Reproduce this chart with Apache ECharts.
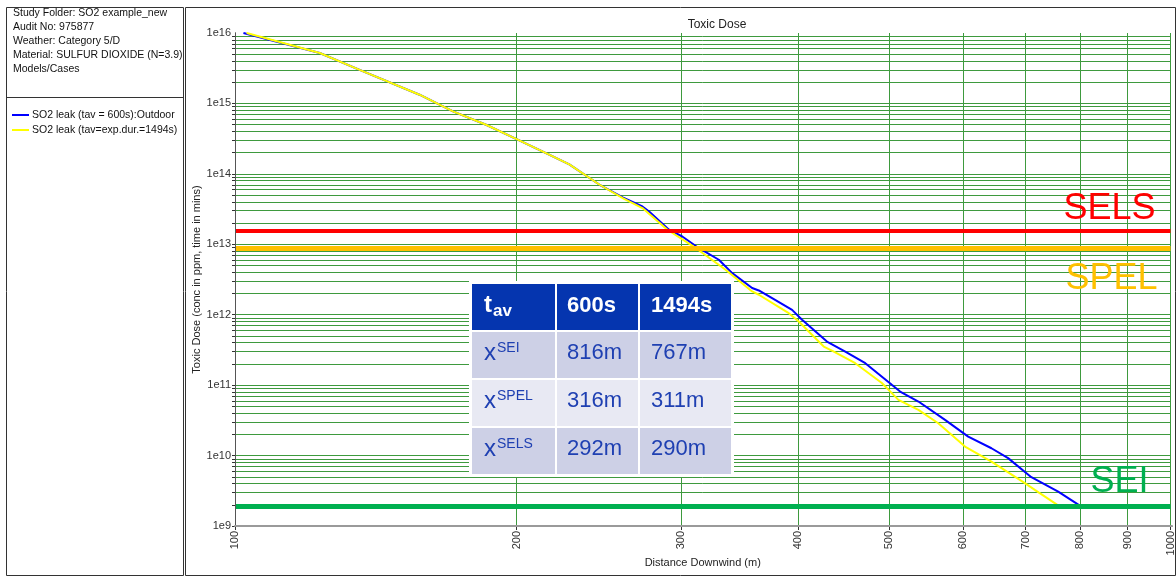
<!DOCTYPE html>
<html><head><meta charset="utf-8">
<script src="https://cdn.jsdelivr.net/npm/echarts@6/dist/echarts.min.js"></script>
<style>html,body{margin:0;padding:0;background:#fff}#c{width:1176px;height:579px}</style>
</head><body><div id="c"></div>
<script>
// ---------- data ----------
const seriesNames = ['SO2 leak (tav = 600s):Outdoor', 'SO2 leak (tav=exp.dur.=1494s)'];
const distance600 = [102.1, 123.2, 135.9, 157.5, 171.0, 185.5, 200, 215.0, 227.7, 245.1, 260.0, 272.6, 277.1, 291.0, 300.7, 313.3, 329.0, 340.0, 357.1, 363.0, 375.1, 394.0, 403.8, 429.3, 449.1, 471.8, 503.6, 514.0, 537.7, 574.1, 607.8, 643.6, 670.5, 710.0, 758.5, 800];
const dose600 = [1.0e16, 5.2e15, 3.0e15, 1.33e15, 7.7e14, 4.98e14, 3.12e14, 1.97e14, 1.36e14, 7.06e13, 4.6e13, 3.44e13, 2.92e13, 1.61e13, 1.29e13, 8.8e12, 6.03e12, 3.9e12, 2.39e12, 2.21e12, 1.72e12, 1.17e12, 8.47e11, 4.16e11, 3.0e11, 2.05e11, 1.01e11, 8.1e10, 5.85e10, 3.21e10, 1.86e10, 1.27e10, 9.2e9, 4.93e9, 3.08e9, 1.95e9];
const distance1494 = [102.9, 123.2, 135.9, 157.5, 171.0, 185.5, 200, 215.0, 227.7, 245.1, 260.0, 272.6, 289.9, 311.0, 334.5, 357.1, 363.0, 390.8, 400.5, 425.9, 434.6, 460.3, 491.4, 511.9, 537.7, 564.6, 603.0, 643.6, 698.8, 716.1, 759];
const dose1494 = [1.0e16, 5.2e15, 3.0e15, 1.33e15, 7.7e14, 4.98e14, 3.12e14, 1.97e14, 1.36e14, 7.06e13, 4.5e13, 3.27e13, 1.61e13, 8.8e12, 4.34e12, 2.14e12, 1.92e12, 1.05e12, 8.0e11, 3.53e11, 3.1e11, 2.05e11, 1.07e11, 6.18e10, 4.46e10, 2.88e10, 1.34e10, 8.2e9, 4.06e9, 3.26e9, 1.95e9];

const thresholdNames = ['SELS', 'SPEL', 'SEI'];
const thresholdValues = [1.57e13, 8.83e12, 1.89e9];

const xTickValues = [100, 200, 300, 400, 500, 600, 700, 800, 900, 1000];
const yDecades = [1e9, 1e10, 1e11, 1e12, 1e13, 1e14, 1e15, 1e16];
const yMinorMultipliers = [1, 2, 3, 4, 5, 6, 7, 8, 9];

const infoLines = ['Study Folder: SO2 example_new', 'Audit No: 975877', 'Weather: Category 5/D', 'Material: SULFUR DIOXIDE (N=3.9)', 'Models/Cases'];

const tableHeaderMain = 't';
const tableHeaderSub = 'av';
const tableHeaderCols = ['600s', '1494s'];
const tableRowMain = 'x';
const tableRowSup = ['SEI', 'SPEL', 'SELS'];
const table600 = ['816m', '316m', '292m'];
const table1494 = ['767m', '311m', '290m'];

// ---------- styles ----------
const FF = '"Liberation Sans", Arial, sans-serif';
const GRID_GREEN = '#3e9a3e';
const thresholdColors = ['#ff0000', '#ffc000', '#00b050'];
const thresholdWidths = [4, 5, 5];
const thresholdLabelPos = ['insideEndTop', 'insideEndBottom', 'insideEndTop'];
const thresholdLabelDist = [[15, 3], [13, 13], [22, 6]];

const yTicks = [];
yDecades.slice(0, -1).forEach(d => yMinorMultipliers.forEach(m => yTicks.push(m * d)));

const chart = echarts.init(document.getElementById('c'));

// table graphics
const colX = [472, 557, 640], colW = [83, 81, 91];
const rowY = [284, 332, 380, 428], rowH = 46;
const bodyFill = ['#cdd0e6', '#e8e9f3', '#cdd0e6'];
const HEAD = '#0535af', BODY_TXT = '#1f40b2';
const graphics = [];
// panels
graphics.push({type: 'rect', shape: {x: 6.5, y: 7.5, width: 177, height: 568}, style: {fill: 'none', stroke: '#333', lineWidth: 1}, silent: true});
graphics.push({type: 'line', shape: {x1: 6.5, y1: 97.5, x2: 183.5, y2: 97.5}, style: {stroke: '#333', lineWidth: 1}, silent: true});
graphics.push({type: 'rect', shape: {x: 185.5, y: 7.5, width: 990, height: 568}, style: {fill: 'none', stroke: '#333', lineWidth: 1}, silent: true});
graphics.push({type: 'text', x: 13, y: 6, style: {text: infoLines.join('\n'), font: '10.5px ' + FF, fill: '#111', lineHeight: 14, textVerticalAlign: 'top', verticalAlign: 'top'}, silent: true});
// table
graphics.push({type: 'rect', z: 50, shape: {x: 469, y: 281, width: 265, height: 196}, style: {fill: '#fff'}, silent: true});
for (let c = 0; c < 3; c++) {
  graphics.push({type: 'rect', z: 51, shape: {x: colX[c], y: rowY[0], width: colW[c], height: rowH}, style: {fill: HEAD}, silent: true});
  for (let r = 0; r < 3; r++) {
    graphics.push({type: 'rect', z: 51, shape: {x: colX[c], y: rowY[r + 1], width: colW[c], height: rowH}, style: {fill: bodyFill[r]}, silent: true});
  }
}
function txt(x, y, text, font, fill) {
  graphics.push({type: 'text', z: 52, x: x, y: y, style: {text: text, font: font, fill: fill, textAlign: 'left', align: 'left', textVerticalAlign: 'middle', verticalAlign: 'middle'}, silent: true});
}
txt(colX[0] + 12, rowY[0] + 21, tableHeaderMain, 'bold 24px ' + FF, '#fff');
txt(colX[0] + 21, rowY[0] + 27.5, tableHeaderSub, 'bold 17px ' + FF, '#fff');
txt(colX[1] + 10, rowY[0] + 22, tableHeaderCols[0], 'bold 22px ' + FF, '#fff');
txt(colX[2] + 11, rowY[0] + 22, tableHeaderCols[1], 'bold 22px ' + FF, '#fff');
for (let r = 0; r < 3; r++) {
  const y0 = rowY[r + 1];
  txt(colX[0] + 12, y0 + 21, tableRowMain, '24px ' + FF, BODY_TXT);
  txt(colX[0] + 25, y0 + 16.5, tableRowSup[r], '14px ' + FF, BODY_TXT);
  txt(colX[1] + 10, y0 + 21, table600[r], '22px ' + FF, BODY_TXT);
  txt(colX[2] + 11, y0 + 21, table1494[r], '22px ' + FF, BODY_TXT);
}

const frameAxis = (pos, color, width) => ({
  gridIndex: 1, type: 'value', min: 0, max: 1, position: pos, z: 5,
  axisLine: {show: true, lineStyle: {color: color, width: width}},
  axisTick: {show: false}, axisLabel: {show: false}, splitLine: {show: false}
});

const option = {
  animation: false,
  backgroundColor: '#fff',
  textStyle: {fontFamily: FF},
  title: {text: 'Toxic Dose', left: 712, top: 14, textAlign: 'center',
    textStyle: {fontSize: 12, fontWeight: 'normal', color: '#222', fontFamily: FF}},
  legend: {
    data: seriesNames, orient: 'vertical', left: 12, top: 109, padding: 0,
    icon: 'rect', itemWidth: 17, itemHeight: 2, itemGap: 3,
    textStyle: {fontSize: 10.5, color: '#111', fontFamily: FF, lineHeight: 12, padding: [0, 0, 0, -2]}
  },
  grid: [
    {left: 235, top: 33, width: 937, height: 493},
    {left: 235, top: 33, width: 937, height: 493, z: 5}
  ],
  xAxis: [
    {
      type: 'log', logBase: 10, min: 100, max: 1000, gridIndex: 0,
      name: 'Distance Downwind (m)', nameLocation: 'middle', nameGap: 31, nameMoveOverlap: false,
      nameTextStyle: {fontSize: 11, color: '#222', fontFamily: FF},
      axisLine: {show: false},
      axisTick: {show: true, length: 4, customValues: xTickValues, lineStyle: {color: '#333'}},
      axisLabel: {customValues: xTickValues, rotate: 90, margin: 5, fontSize: 11, color: '#333', fontFamily: FF,
        formatter: v => String(Math.round(v))},
      splitLine: {show: true, lineStyle: {color: GRID_GREEN, width: 1}},
      minorTick: {show: false}, minorSplitLine: {show: false}
    },
    frameAxis('bottom', '#404040', 1),
    frameAxis('top', '#9a9a9a', 2)
  ],
  yAxis: [
    {
      type: 'log', logBase: 10, min: 1e9, max: 1e16, gridIndex: 0,
      name: 'Toxic Dose (conc in ppm, time in mins)', nameLocation: 'middle', nameGap: 33, nameRotate: 90, nameMoveOverlap: false,
      nameTextStyle: {fontSize: 11, color: '#222', fontFamily: FF},
      axisLine: {show: false},
      axisTick: {show: true, length: 3, customValues: yTicks, lineStyle: {color: '#333'}},
      axisLabel: {customValues: yDecades, margin: 4, fontSize: 11, color: '#333', fontFamily: FF, verticalAlign: 'middle',
        formatter: v => '1e' + Math.round(Math.log10(v))},
      splitLine: {show: true, lineStyle: {color: GRID_GREEN, width: 1}}
    },
    frameAxis('left', '#404040', 1),
    frameAxis('right', '#555', 1)
  ],
  series: [
    {
      name: seriesNames[0], type: 'line', xAxisIndex: 0, yAxisIndex: 0,
      data: distance600.map((d, i) => [d, dose600[i]]),
      showSymbol: false, symbol: 'none', color: '#0000ff',
      lineStyle: {color: '#0000ff', width: 2}, z: 3
    },
    {
      name: seriesNames[1], type: 'line', xAxisIndex: 0, yAxisIndex: 0,
      data: distance1494.map((d, i) => [d, dose1494[i]]),
      showSymbol: false, symbol: 'none', color: '#ffff00',
      lineStyle: {color: '#ffff00', width: 2}, z: 4
    },
    {
      name: 'thresholds', type: 'line', xAxisIndex: 0, yAxisIndex: 0, data: [], z: 6,
      markLine: {
        silent: true, symbol: 'none', animation: false,
        data: thresholdNames.map((n, i) => ({
          name: n, yAxis: thresholdValues[i],
          lineStyle: {color: thresholdColors[i], width: thresholdWidths[i], type: 'solid'},
          label: {show: true, formatter: '{b}', position: thresholdLabelPos[i], distance: thresholdLabelDist[i],
            color: thresholdColors[i], fontSize: 36, fontFamily: FF, fontWeight: 'normal'}
        }))
      }
    }
  ],
  graphic: graphics
};
chart.setOption(option);
</script>
</body></html>
